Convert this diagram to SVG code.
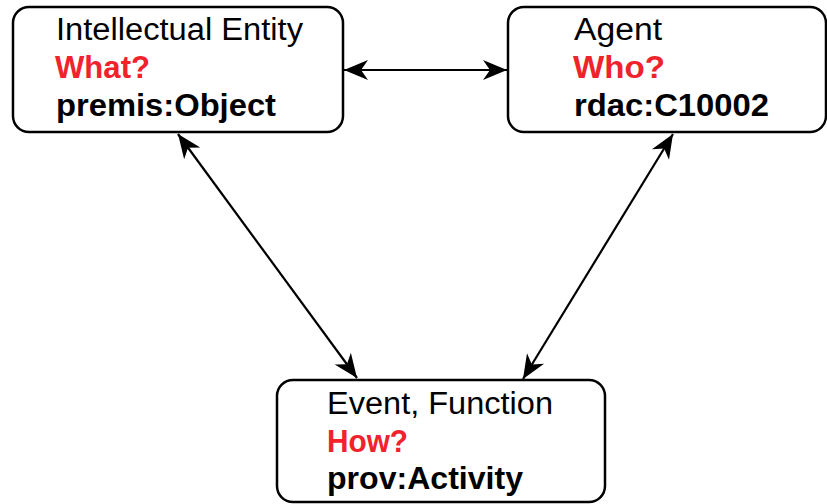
<svg xmlns="http://www.w3.org/2000/svg" width="827" height="504" viewBox="0 0 827 504">
<defs>
<style>
.box{fill:#fff;stroke:#000;stroke-width:2.5}
.t{font-family:"Liberation Sans",Arial,sans-serif;font-size:31px;fill:#000}
.q{font-weight:bold;fill:#f0222c}
.b{font-weight:bold}
.c{stroke:#000;stroke-width:2.2;fill:none;marker-start:url(#ah);marker-end:url(#ah)}
</style>
<marker id="ah" viewBox="-26 -11 28 22" refX="0" refY="0" markerWidth="28" markerHeight="22" markerUnits="userSpaceOnUse" orient="auto-start-reverse">
<path d="M0,0 L-24,-10 L-17,0 L-24,10 Z" fill="#000"/>
</marker>
</defs>
<rect width="827" height="504" fill="#fff"/>
<g id="connectors">
<line class="c" x1="344" y1="70" x2="507" y2="70"/>
<line class="c" x1="178" y1="134" x2="357" y2="378"/>
<line class="c" x1="673" y1="134" x2="523" y2="379"/>
</g>
<g id="intellectual-entity">
<rect class="box" x="13" y="7" width="330" height="125" rx="16"/>
<text class="t" x="56" y="40" textLength="247" lengthAdjust="spacingAndGlyphs">Intellectual Entity</text>
<text class="t q" x="55" y="78" textLength="95" lengthAdjust="spacingAndGlyphs">What?</text>
<text class="t b" x="56" y="116" textLength="220" lengthAdjust="spacingAndGlyphs">premis:Object</text>
</g>
<g id="agent">
<rect class="box" x="508" y="7" width="318" height="125" rx="16"/>
<text class="t" x="574" y="40" textLength="88" lengthAdjust="spacingAndGlyphs">Agent</text>
<text class="t q" x="573" y="78" textLength="92" lengthAdjust="spacingAndGlyphs">Who?</text>
<text class="t b" x="574" y="116" textLength="195" lengthAdjust="spacingAndGlyphs">rdac:C10002</text>
</g>
<g id="event-function">
<rect class="box" x="277" y="380" width="328" height="122" rx="16"/>
<text class="t" x="327" y="414" textLength="226" lengthAdjust="spacingAndGlyphs">Event, Function</text>
<text class="t q" x="327" y="452" textLength="81" lengthAdjust="spacingAndGlyphs">How?</text>
<text class="t b" x="327" y="489" textLength="196" lengthAdjust="spacingAndGlyphs">prov:Activity</text>
</g>
</svg>
